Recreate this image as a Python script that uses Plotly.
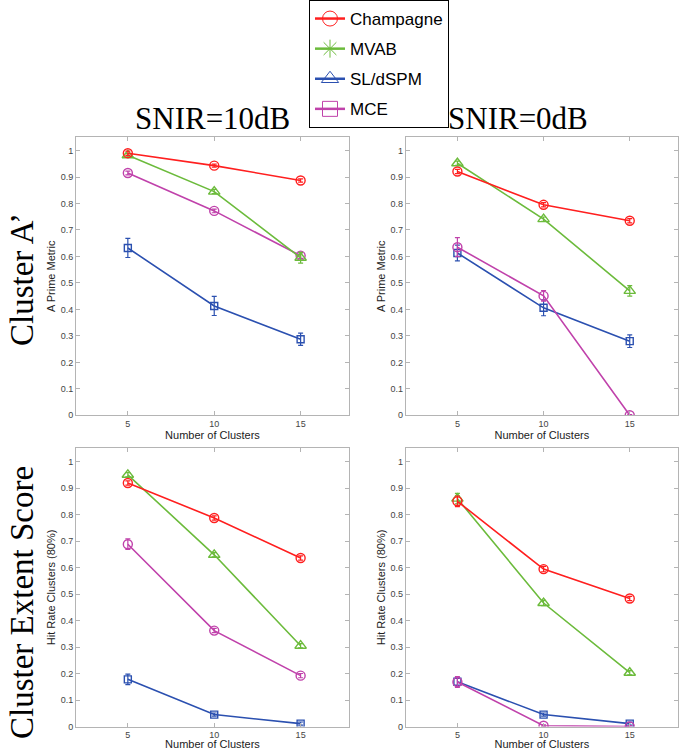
import plotly.graph_objects as go

# ---------------- data ----------------
clusters = [5, 10, 15]
x_ticks = [5, 10, 15]
y_ticks = [0, 0.1, 0.2, 0.3, 0.4, 0.5, 0.6, 0.7, 0.8, 0.9, 1]
y_tick_labels = ["0", "0.1", "0.2", "0.3", "0.4", "0.5", "0.6", "0.7", "0.8", "0.9", "1"]

methods = ["Champagne", "MVAB", "SL/dSPM", "MCE"]

# Cluster A' , SNIR = 10 dB
aprime_10_champ = [0.990, 0.943, 0.887]
aprime_10_mvab = [0.982, 0.845, 0.595]
aprime_10_sl = [0.632, 0.413, 0.287]
aprime_10_mce = [0.915, 0.772, 0.603]
aprime_10_champ_err = [0.008, 0.006, 0.006]
aprime_10_mvab_err = [0.006, 0.008, 0.020]
aprime_10_sl_err = [0.036, 0.036, 0.023]
aprime_10_mce_err = [0.007, 0.007, 0.010]

# Cluster A' , SNIR = 0 dB
aprime_0_champ = [0.921, 0.795, 0.735]
aprime_0_mvab = [0.952, 0.741, 0.470]
aprime_0_sl = [0.613, 0.406, 0.280]
aprime_0_mce = [0.635, 0.451, 0.000]
aprime_0_champ_err = [0.008, 0.008, 0.008]
aprime_0_mvab_err = [0.008, 0.008, 0.020]
aprime_0_sl_err = [0.030, 0.030, 0.024]
aprime_0_mce_err = [0.036, 0.020, 0.003]

# Cluster extent score (hit rate 80%), SNIR = 10 dB
hit_10_champ = [0.919, 0.787, 0.636]
hit_10_mvab = [0.950, 0.648, 0.305]
hit_10_sl = [0.178, 0.045, 0.011]
hit_10_mce = [0.688, 0.362, 0.192]
hit_10_champ_err = [0.008, 0.008, 0.008]
hit_10_mvab_err = [0.008, 0.008, 0.008]
hit_10_sl_err = [0.020, 0.006, 0.006]
hit_10_mce_err = [0.020, 0.008, 0.008]

# Cluster extent score (hit rate 80%), SNIR = 0 dB
hit_0_champ = [0.850, 0.594, 0.483]
hit_0_mvab = [0.860, 0.466, 0.203]
hit_0_sl = [0.169, 0.045, 0.011]
hit_0_mce = [0.168, 0.003, 0.000]
hit_0_champ_err = [0.020, 0.010, 0.008]
hit_0_mvab_err = [0.020, 0.010, 0.008]
hit_0_sl_err = [0.015, 0.006, 0.006]
hit_0_mce_err = [0.020, 0.003, 0.003]

col_titles = ["SNIR=10dB", "SNIR=0dB"]
row_titles = ["Cluster A\u2019", "Cluster Extent Score"]
x_title = "Number of Clusters"
y_titles = ["A Prime Metric", "Hit Rate Clusters (80%)"]

# ---------------- styles ----------------
colors = {"Champagne": "#ff1f1f", "MVAB": "#6cbb3c", "SL/dSPM": "#2b50b0", "MCE": "#c042ab"}
plot_symbols = {"Champagne": "circle-open", "MVAB": "triangle-up-open",
                "SL/dSPM": "square-open", "MCE": "circle-open"}
plot_sizes = {"Champagne": 9, "MVAB": 10, "SL/dSPM": 7, "MCE": 9}
legend_symbols = {"Champagne": "circle-open", "MVAB": "asterisk-open",
                  "SL/dSPM": "triangle-up-open", "MCE": "square-open"}

W, H = 685, 750


def xdom(a, b):
    return [a / W, b / W]


def ydom(top, bottom):
    return [1 - bottom / H, 1 - top / H]


panels = [
    ("", xdom(76, 349), ydom(137.3, 415.3),
     {"Champagne": (aprime_10_champ, aprime_10_champ_err), "MVAB": (aprime_10_mvab, aprime_10_mvab_err),
      "SL/dSPM": (aprime_10_sl, aprime_10_sl_err), "MCE": (aprime_10_mce, aprime_10_mce_err)}, y_titles[0]),
    ("2", xdom(405.7, 678), ydom(137.3, 415.3),
     {"Champagne": (aprime_0_champ, aprime_0_champ_err), "MVAB": (aprime_0_mvab, aprime_0_mvab_err),
      "SL/dSPM": (aprime_0_sl, aprime_0_sl_err), "MCE": (aprime_0_mce, aprime_0_mce_err)}, y_titles[0]),
    ("3", xdom(76, 349), ydom(448.3, 726.5),
     {"Champagne": (hit_10_champ, hit_10_champ_err), "MVAB": (hit_10_mvab, hit_10_mvab_err),
      "SL/dSPM": (hit_10_sl, hit_10_sl_err), "MCE": (hit_10_mce, hit_10_mce_err)}, y_titles[1]),
    ("4", xdom(405.7, 678), ydom(448.3, 726.5),
     {"Champagne": (hit_0_champ, hit_0_champ_err), "MVAB": (hit_0_mvab, hit_0_mvab_err),
      "SL/dSPM": (hit_0_sl, hit_0_sl_err), "MCE": (hit_0_mce, hit_0_mce_err)}, y_titles[1]),
]

fig = go.Figure()
layout_axes = {}
tick_font = dict(family="Liberation Sans, Arial, sans-serif", size=9, color="#444444")
title_font = dict(family="Liberation Sans, Arial, sans-serif", size=11, color="#222222")

draw_order = ["SL/dSPM", "MCE", "MVAB", "Champagne"]
for suffix, xd, yd, data, ytitle in panels:
    for m in draw_order:
        vals, errs = data[m]
        fig.add_trace(go.Scatter(
            x=clusters, y=vals,
            mode="lines+markers",
            line=dict(color=colors[m], width=1.6),
            marker=dict(symbol=plot_symbols[m], size=plot_sizes[m],
                        color=colors[m], line=dict(width=1.4, color=colors[m])),
            error_y=dict(type="data", array=errs, visible=True,
                         color=colors[m], thickness=1.2, width=2.5),
            xaxis="x" + suffix, yaxis="y" + suffix,
            showlegend=False, name=m,
        ))
    axis_common = dict(showline=True, linecolor="#b4b4b4", linewidth=1, mirror="ticks",
                       ticks="inside", ticklen=4, tickcolor="#b4b4b4", tickwidth=1,
                       showgrid=False, zeroline=False, tickfont=tick_font)
    layout_axes["xaxis" + suffix] = dict(
        domain=xd, range=[2, 17.8], tickvals=x_ticks, ticktext=[str(t) for t in x_ticks],
        anchor="y" + suffix, title=dict(text=x_title, font=title_font, standoff=0),
        automargin=False, **axis_common)
    layout_axes["yaxis" + suffix] = dict(
        domain=yd, range=[0, 1.05], tickvals=y_ticks, ticktext=y_tick_labels,
        anchor="x" + suffix, title=dict(text=ytitle, font=title_font, standoff=2),
        automargin=False, **axis_common)

# legend-only entries (legend symbols as in the original figure)
for i, m in enumerate(methods):
    fig.add_trace(go.Scatter(
        x=[None], y=[None], mode="lines+markers", name=m,
        line=dict(color=colors[m], width=2.5),
        marker=dict(symbol=legend_symbols[m], size=15, color=colors[m],
                    line=dict(width=1, color=colors[m])),
        legendgroup=m, showlegend=True, xaxis="x", yaxis="y",
    ))

serif = "Liberation Serif, serif"
annotations = [
    dict(text=col_titles[0], x=213 / W, y=1 - 118 / H, xref="paper", yref="paper",
         showarrow=False, font=dict(family=serif, size=31, color="black"),
         xanchor="center", yanchor="middle"),
    dict(text=col_titles[1], x=518 / W, y=1 - 118 / H, xref="paper", yref="paper",
         showarrow=False, font=dict(family=serif, size=31, color="black"),
         xanchor="center", yanchor="middle"),
    dict(text=row_titles[0], x=22 / W, y=1 - 280 / H, xref="paper", yref="paper",
         showarrow=False, textangle=-90, font=dict(family=serif, size=33, color="black"),
         xanchor="center", yanchor="middle"),
    dict(text=row_titles[1], x=22 / W, y=1 - 603 / H, xref="paper", yref="paper",
         showarrow=False, textangle=-90, font=dict(family=serif, size=33, color="black"),
         xanchor="center", yanchor="middle"),
]

fig.update_layout(
    width=W, height=H,
    margin=dict(l=0, r=0, t=0, b=0),
    paper_bgcolor="white", plot_bgcolor="white",
    showlegend=True,
    legend=dict(x=309 / W, y=1, xanchor="left", yanchor="top",
                bordercolor="black", borderwidth=1, bgcolor="white",
                font=dict(family="Liberation Sans, Arial, sans-serif", size=17, color="black"),
                traceorder="grouped", tracegroupgap=5, itemwidth=30),
    annotations=annotations,
    **layout_axes,
)

fig.write_html("out.html", config={"displayModeBar": False},
               post_script="document.body.style.margin='0px';")
